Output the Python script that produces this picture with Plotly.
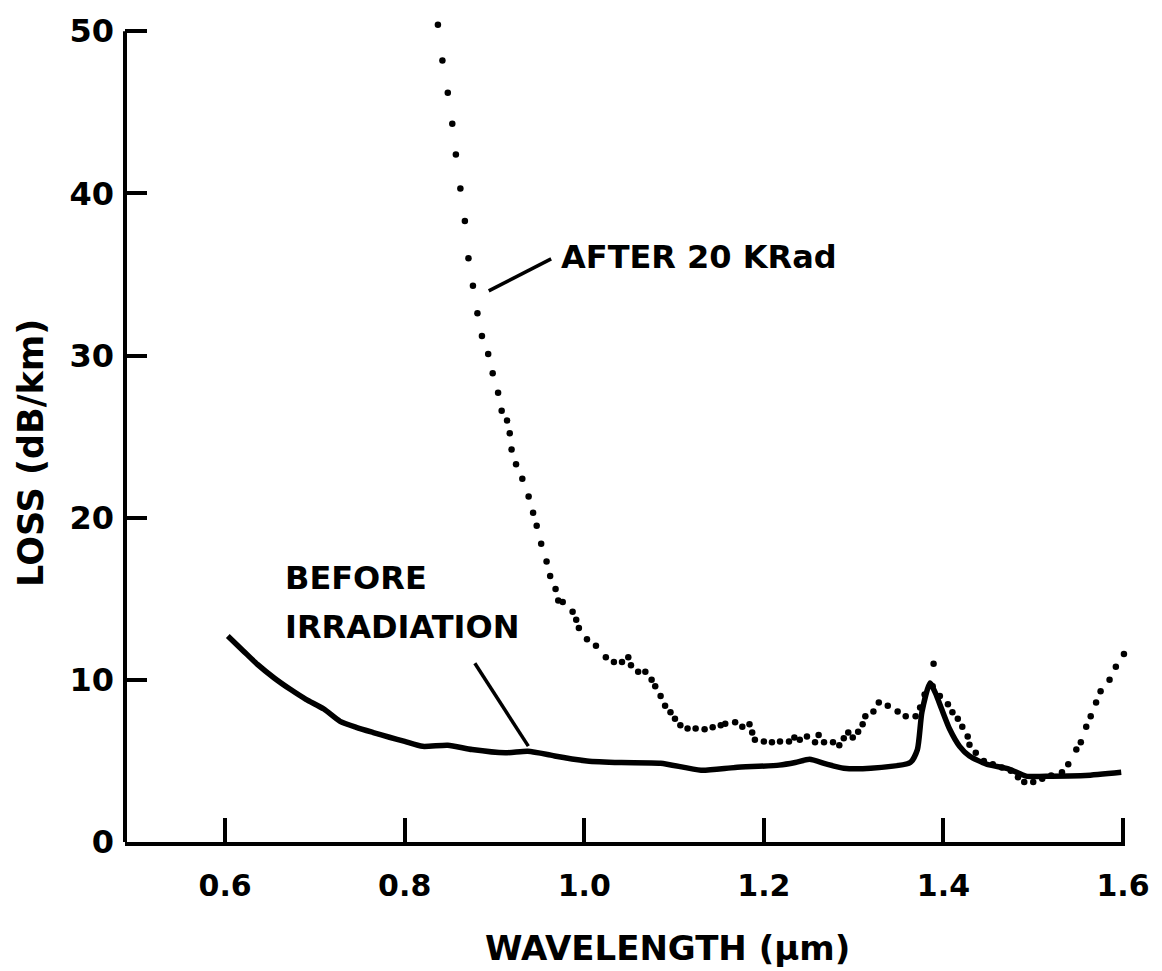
import plotly.graph_objects as go

# ---- data ----
before_wl = [0.603, 0.62, 0.636, 0.655, 0.673, 0.69, 0.71, 0.728, 0.746, 0.765, 0.783, 0.80,
             0.82, 0.848, 0.875, 0.912, 0.937, 0.959, 0.967, 1.003, 1.041, 1.085, 1.13,
             1.168, 1.217, 1.235, 1.251, 1.27, 1.289, 1.319, 1.363, 1.371, 1.376, 1.385,
             1.391, 1.398, 1.407, 1.418, 1.429, 1.448, 1.473, 1.492, 1.521, 1.558, 1.598]
before_loss = [12.7, 11.8, 10.95, 10.1, 9.4, 8.8, 8.2, 7.44, 7.07, 6.75, 6.46, 6.2,
               5.9, 5.97, 5.7, 5.5, 5.6, 5.4, 5.3, 5.0, 4.9, 4.86, 4.43,
               4.6, 4.74, 4.9, 5.1, 4.8, 4.55, 4.55, 4.9, 5.7, 8.0, 9.8,
               9.2, 8.2, 6.95, 5.9, 5.3, 4.8, 4.5, 4.06, 4.06, 4.1, 4.3]

after_wl = [0.837, 0.842, 0.848, 0.853, 0.857, 0.862, 0.867, 0.871, 0.876, 0.881, 0.886,
            0.893, 0.898, 0.904, 0.908, 0.914, 0.917, 0.919, 0.924, 0.931, 0.938, 0.943,
            0.947, 0.952, 0.958, 0.962, 0.968, 0.971, 0.976, 0.987, 0.991, 0.994, 1.003,
            1.013, 1.024, 1.033, 1.042, 1.049, 1.052, 1.060, 1.068, 1.075, 1.079, 1.085,
            1.090, 1.096, 1.101, 1.107, 1.115, 1.124, 1.134, 1.143, 1.152, 1.157, 1.168,
            1.176, 1.184, 1.187, 1.190, 1.200, 1.209, 1.218, 1.228, 1.234, 1.240, 1.248,
            1.257, 1.261, 1.267, 1.277, 1.284, 1.289, 1.294, 1.299, 1.305, 1.310, 1.313,
            1.322, 1.328, 1.338, 1.349, 1.358, 1.369, 1.374, 1.379, 1.388, 1.389, 1.396,
            1.405, 1.410, 1.416, 1.421, 1.427, 1.429, 1.436, 1.445, 1.455, 1.465, 1.475,
            1.483, 1.490, 1.500, 1.510, 1.520, 1.532, 1.539, 1.548, 1.553, 1.559, 1.564,
            1.570, 1.575, 1.585, 1.592, 1.601]
after_loss = [50.4, 48.2, 46.2, 44.3, 42.4, 40.3, 38.3, 36.0, 34.3, 32.6, 31.2,
              30.1, 28.9, 27.7, 26.6, 26.0, 25.2, 24.2, 23.3, 22.4, 21.3, 20.3,
              19.5, 18.4, 17.3, 16.4, 15.6, 14.9, 14.8, 14.2, 13.7, 13.2, 12.5,
              12.1, 11.4, 11.1, 11.1, 11.4, 10.9, 10.5, 10.5, 10.0, 9.6, 9.0,
              8.4, 8.0, 7.6, 7.2, 7.0, 7.0, 6.95, 7.07, 7.2, 7.3, 7.38,
              7.1, 7.26, 6.76, 6.3, 6.2, 6.15, 6.2, 6.2, 6.45, 6.3, 6.5,
              6.15, 6.6, 6.15, 6.15, 5.97, 6.4, 6.76, 6.45, 6.8, 7.26, 7.75,
              8.05, 8.6, 8.4, 8.05, 7.75, 7.75, 8.3, 9.1, 9.6, 11.0, 9.0,
              8.5, 8.0, 7.6, 7.1, 6.5, 6.0, 5.5, 5.0, 4.8, 4.6, 4.4,
              4.0, 3.7, 3.7, 3.9, 4.1, 4.3, 4.8, 5.7, 6.15, 7.1, 7.75,
              8.6, 9.3, 10.0, 10.8, 11.6]

x_ticks = [0.6, 0.8, 1.0, 1.2, 1.4, 1.6]
x_tick_labels = ["0.6", "0.8", "1.0", "1.2", "1.4", "1.6"]
y_ticks = [0, 10, 20, 30, 40, 50]
y_tick_labels = ["0", "10", "20", "30", "40", "50"]
y_axis_top = 50      # the drawn y-axis line stops at the 50 tick
y_view_top = 51      # small headroom so the first dotted point (above 50) stays visible

# leader lines for the labels: (x0, y0, x1, y1)
after_leader = (0.8936, 33.99, 0.9631, 35.96)
before_leader = (0.8781, 11.02, 0.9377, 5.91)

FONT = "DejaVu Sans"

fig = go.Figure()
fig.add_trace(go.Scatter(x=before_wl, y=before_loss, mode="lines",
                         line=dict(color="black", width=5.5, shape="spline", smoothing=0.6),
                         showlegend=False))
fig.add_trace(go.Scatter(x=after_wl, y=after_loss, mode="markers", cliponaxis=False,
                         marker=dict(color="black", size=6.5), showlegend=False))

for (x0, y0, x1, y1) in (after_leader, before_leader):
    fig.add_shape(type="line", x0=x0, y0=y0, x1=x1, y1=y1, xref="x", yref="y",
                  line=dict(color="black", width=3.5))

# y-axis line drawn from 0 up to the 50 tick
fig.add_shape(type="line", x0=0, x1=0, y0=0, y1=y_axis_top, xref="paper", yref="y",
              line=dict(color="black", width=4))

fig.add_annotation(x=0.972, y=36.08, xref="x", yref="y", text="AFTER 20 KRad",
                   showarrow=False, xanchor="left", yanchor="middle",
                   font=dict(family=FONT, size=32, color="black", weight="bold"))
fig.add_annotation(x=0.665, y=16.26, xref="x", yref="y", text="BEFORE",
                   showarrow=False, xanchor="left", yanchor="middle",
                   font=dict(family=FONT, size=32, color="black", weight="bold"))
fig.add_annotation(x=0.665, y=13.24, xref="x", yref="y", text="IRRADIATION",
                   showarrow=False, xanchor="left", yanchor="middle",
                   font=dict(family=FONT, size=32, color="black", weight="bold"))

fig.add_annotation(x=-0.094, y=0.4705, xref="paper", yref="paper", text="LOSS (dB/km)",
                   showarrow=False, textangle=-90, xanchor="center", yanchor="middle",
                   font=dict(family=FONT, size=35, color="black", weight="bold"))
fig.add_annotation(x=0.542, y=-0.128, xref="paper", yref="paper", text="WAVELENGTH (μm)",
                   showarrow=False, xanchor="center", yanchor="middle",
                   font=dict(family=FONT, size=34, color="black", weight="bold"))

fig.update_xaxes(range=[0.4885, 1.6022], tickvals=x_ticks, ticktext=x_tick_labels,
                 ticks="inside", ticklen=24, tickwidth=3.5, tickcolor="black",
                 showline=True, linecolor="black", linewidth=4, showgrid=False,
                 zeroline=False, ticklabelstandoff=14,
                 tickfont=dict(family=FONT, size=30, color="black", weight="bold"))
fig.update_yaxes(range=[0, y_view_top], tickvals=y_ticks, ticktext=y_tick_labels,
                 ticks="inside", ticklen=22, tickwidth=3.5, tickcolor="black",
                 showline=False, showgrid=False,
                 zeroline=False, ticklabelstandoff=10,
                 tickfont=dict(family=FONT, size=32, color="black", weight="bold"))

fig.update_layout(width=1162, height=971, plot_bgcolor="white", paper_bgcolor="white",
                  margin=dict(l=125, r=28, t=14, b=129), showlegend=False)

fig.write_html("out.html")
